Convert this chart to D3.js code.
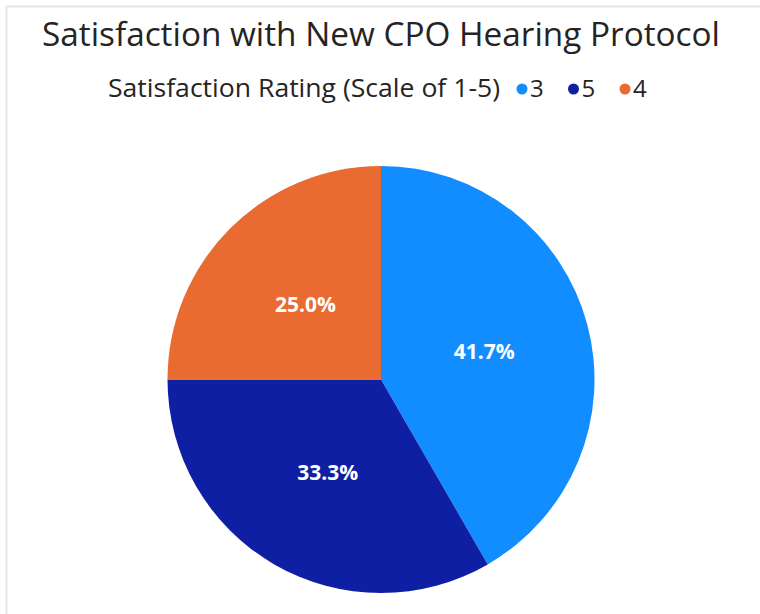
<!DOCTYPE html>
<html>
<head>
<meta charset="utf-8">
<script src="https://cdn.jsdelivr.net/npm/d3@7"></script>
<style>
  body { margin: 0; background: #fff; }
  svg { display: block; font-family: "Segoe UI", "Open Sans", sans-serif; }
</style>
</head>
<body>
<div id="wrapper"></div>
<script>
const title = "Satisfaction with New CPO Hearing Protocol";
const legendTitle = "Satisfaction Rating (Scale of 1-5)";
const ratings = ["3", "5", "4"];
const counts = [5, 4, 3];
const colors = ["#118DFF", "#0F1FA3", "#E96B31"];

function build() {
    const dimension = { width: 760, height: 614, cx: 381, cy: 379.5, radius: 213.5 };

    const wrapper = d3.select("#wrapper")
        .append("svg")
        .attr("width", dimension.width)
        .attr("height", dimension.height);

    // card frame
    wrapper.append("rect")
        .attr("x", 6.5).attr("y", 6.5)
        .attr("width", 800).attr("height", 700)
        .attr("fill", "none")
        .attr("stroke", "#e6e6e6")
        .attr("stroke-width", 2);

    wrapper.append("text")
        .attr("x", 42)
        .attr("y", 46)
        .attr("textLength", 678)
        .attr("lengthAdjust", "spacingAndGlyphs")
        .style("font-size", "32px")
        .style("font-weight", 500)
        .style("fill", "#252423")
        .text(title);

    // legend
    const legend = wrapper.append("g");
    legend.append("text")
        .attr("x", 108)
        .attr("y", 97)
        .attr("textLength", 392)
        .attr("lengthAdjust", "spacingAndGlyphs")
        .style("font-size", "25px")
        .style("font-weight", 500)
        .style("fill", "#252423")
        .text(legendTitle);
    let x = 517;
    ratings.forEach((r, i) => {
        legend.append("circle")
            .attr("cx", x + 5).attr("cy", 89)
            .attr("r", 5.5)
            .attr("fill", colors[i]);
        legend.append("text")
            .attr("x", x + 13).attr("y", 97)
            .style("font-size", "24px")
            .style("font-weight", 500)
            .style("fill", "#252423")
            .text(r);
        x += 51.5;
    });

    const data = ratings.map((r, i) => ({ rating: r, count: counts[i] }));
    const total = d3.sum(counts);
    const color = d3.scaleOrdinal().domain(ratings).range(colors);

    const pie = d3.pie().sort(null).value(d => d.count);
    const arc = d3.arc().innerRadius(0).outerRadius(dimension.radius);

    const bounds = wrapper.append("g")
        .attr("transform", `translate(${dimension.cx},${dimension.cy})`);

    const arcs = pie(data);
    bounds.selectAll("path")
        .data(arcs)
        .enter()
        .append("path")
        .attr("d", arc)
        .attr("fill", d => color(d.data.rating));

    bounds.selectAll("text")
        .data(arcs)
        .enter()
        .append("text")
        .attr("transform", d => `translate(${arc.centroid(d)})`)
        .attr("text-anchor", "middle")
        .attr("dy", "0.36em")
        .style("font-size", "21px")
        .style("font-weight", "bold")
        .style("fill", "#fff")
        .text(d => (d.data.count / total * 100).toFixed(1) + "%");
}

build();
</script>
</body>
</html>
